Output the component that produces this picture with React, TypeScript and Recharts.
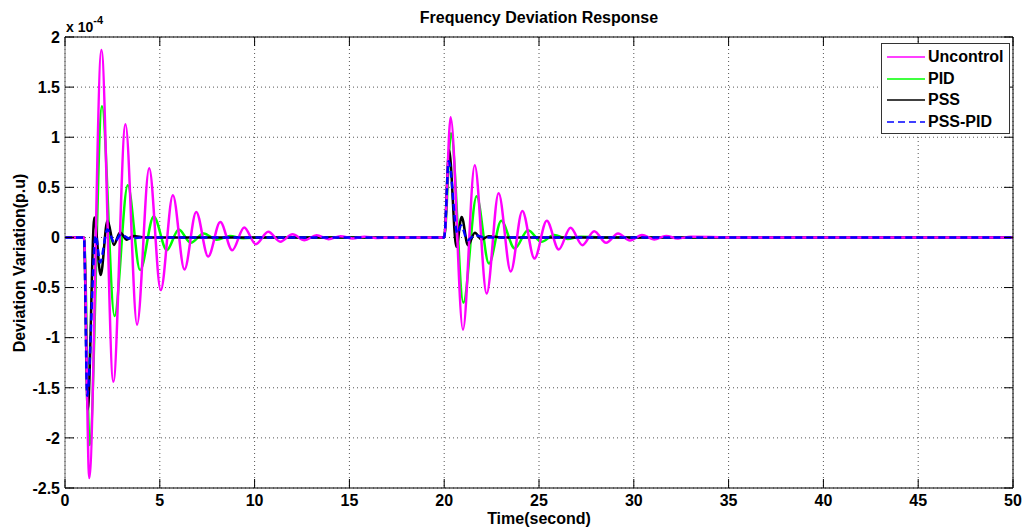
import { LineChart, Line, XAxis, YAxis, CartesianGrid } from 'recharts'

// values are in units of 1e-4 p.u.
const uncontrolTime = [
  0, 1.0, 1.28, 1.92, 2.55, 3.19, 3.8, 4.44, 5.05, 5.69, 6.3, 6.92, 7.55, 8.19, 8.82, 9.45,
  10.06, 10.72, 11.36, 12.0, 12.63, 13.27, 13.9, 14.53, 15.17, 15.8, 16.4, 17.0, 20.0,
  20.34, 20.99, 21.61, 22.24, 22.87, 23.51, 24.12, 24.76, 25.41, 26.04, 26.66, 27.29, 27.91,
  28.54, 29.17, 29.8, 30.43, 31.07, 31.7, 32.33, 33.0, 36.0, 50.0,
]
const uncontrolValue = [
  0, 0, -2.4, 1.87, -1.44, 1.13, -0.87, 0.69, -0.525, 0.42, -0.32, 0.255, -0.19, 0.155, -0.127, 0.1,
  -0.067, 0.056, -0.043, 0.033, -0.027, 0.022, -0.017, 0.013, -0.01, 0.008, -0.006, 0, 0,
  1.2, -0.92, 0.72, -0.56, 0.44, -0.34, 0.265, -0.21, 0.166, -0.12, 0.096, -0.077, 0.063,
  -0.054, 0.04, -0.03, 0.025, -0.02, 0.015, -0.01, 0.006, 0, 0,
]

const pidTime = [
  0, 1.0, 1.3, 1.95, 2.61, 3.31, 3.96, 4.68, 5.37, 6.0, 6.63, 7.31, 8.0, 8.7, 9.4, 10.5, 20.0,
  20.36, 21.01, 21.71, 22.36, 23.01, 23.72, 24.42, 25.13, 25.8, 26.5, 27.2, 28.5, 50.0,
]
const pidValue = [
  0, 0, -2.07, 1.31, -0.785, 0.52, -0.326, 0.21, -0.127, 0.08, -0.054, 0.04, -0.022, 0.015, -0.008, 0, 0,
  1.04, -0.65, 0.41, -0.26, 0.166, -0.11, 0.073, -0.044, 0.025, -0.015, 0.008, 0, 0,
]

const pssTime = [
  0, 1.0, 1.2, 1.55, 1.88, 2.24, 2.58, 2.9, 3.26, 3.6, 4.2, 20.0,
  20.26, 20.64, 20.92, 21.25, 21.62, 21.97, 22.35, 23.0, 50.0,
]
const pssValue = [
  0, 0, -1.72, 0.2, -0.375, 0.17, -0.075, 0.05, -0.022, 0.015, 0, 0,
  0.87, -0.094, 0.205, -0.077, 0.046, -0.02, 0.013, 0, 0,
]

const pssPidTime = [0, 1.0, 1.17, 1.62, 1.85, 2.24, 2.6, 2.95, 3.4, 4.0, 20.0, 20.24, 20.69, 20.9, 21.22, 21.6, 22.2, 50.0]
const pssPidValue = [0, 0, -1.58, 0.02, -0.25, 0.08, -0.05, 0.03, -0.01, 0, 0, 0.76, 0.04, 0.12, -0.027, 0.02, 0, 0]

const xTicks = [0, 5, 10, 15, 20, 25, 30, 35, 40, 45, 50]
const yTicks = [-2.5, -2, -1.5, -1, -0.5, 0, 0.5, 1, 1.5, 2]

const legendNames = ['Uncontrol', 'PID', 'PSS', 'PSS-PID']
const legendColors = ['#ff00ff', '#00ff00', '#000000', '#0000ff']
const legendDashes = ['', '', '', '7 4']

const FONT = '"Liberation Sans", Arial, sans-serif'
const TICK_LEN = 9
const LINE_W = 2.5

const toPoints = (t: number[], v: number[]) => t.map((x, i) => ({ t: x, v: v[i] }))

const uncontrolData = toPoints(uncontrolTime, uncontrolValue)
const pidData = toPoints(pidTime, pidValue)
const pssData = toPoints(pssTime, pssValue)
const pssPidData = toPoints(pssPidTime, pssPidValue)

const labelStyle = { fontFamily: FONT, fontWeight: 700, fontSize: 16, fill: '#000' }

function BottomTick({ x, y, payload }: any) {
  const base = y - 6
  return (
    <g>
      <line x1={x} x2={x} y1={base} y2={base - TICK_LEN} stroke="#000" />
      <text x={x} y={y} dy="0.75em" textAnchor="middle" style={labelStyle}>{payload.value}</text>
    </g>
  )
}

function TopTick({ x, y }: any) {
  return <line x1={x} x2={x} y1={y} y2={y + TICK_LEN} stroke="#000" />
}

function LeftTick({ x, y, payload }: any) {
  const base = x + 5
  return (
    <g>
      <line x1={base} x2={base + TICK_LEN} y1={y} y2={y} stroke="#000" />
      <text x={x} y={y} dy="0.36em" textAnchor="end" style={labelStyle}>{payload.value}</text>
    </g>
  )
}

function RightTick({ x, y }: any) {
  return <line x1={x} x2={x - TICK_LEN} y1={y} y2={y} stroke="#000" />
}

export default function App() {
  return (
    <div style={{ position: 'absolute', left: 0, top: 0, width: 1027, height: 528, background: '#fff', fontFamily: FONT }}>
      <LineChart width={1027} height={528} margin={{ top: 7, right: 0, bottom: 0, left: 0 }}>
        <CartesianGrid stroke="#555" strokeDasharray="1 3" />
        <XAxis
          dataKey="t" type="number" domain={[0, 50]} ticks={xTicks} height={40}
          tickSize={0} tickMargin={6} tick={(p: any) => <BottomTick {...p} />}
          axisLine={{ stroke: '#000' }} allowDataOverflow
        />
        <XAxis
          xAxisId="top" orientation="top" dataKey="t" type="number" domain={[0, 50]} ticks={xTicks} height={30}
          tickSize={0} tickMargin={0} tick={(p: any) => <TopTick {...p} />}
          axisLine={{ stroke: '#000' }} allowDataOverflow
        />
        <YAxis
          type="number" domain={[-2.5, 2]} ticks={yTicks} width={65}
          tickSize={0} tickMargin={5} tick={(p: any) => <LeftTick {...p} />}
          axisLine={{ stroke: '#666' }} allowDataOverflow
        />
        <YAxis
          yAxisId="right" orientation="right" type="number" domain={[-2.5, 2]} ticks={yTicks} width={14}
          tickSize={0} tickMargin={0} tick={(p: any) => <RightTick {...p} />}
          axisLine={{ stroke: '#000' }} allowDataOverflow
        />
        <Line data={pidData} dataKey="v" type="monotone" stroke={legendColors[1]} strokeWidth={LINE_W} dot={false} activeDot={false} isAnimationActive={false} />
        <Line data={pssData} dataKey="v" type="monotone" stroke={legendColors[2]} strokeWidth={LINE_W} dot={false} activeDot={false} isAnimationActive={false} />
        <Line data={uncontrolData} dataKey="v" type="monotone" stroke={legendColors[0]} strokeWidth={LINE_W} dot={false} activeDot={false} isAnimationActive={false} />
        <Line data={pssPidData} dataKey="v" type="monotone" stroke={legendColors[3]} strokeWidth={LINE_W} strokeDasharray="7 4" dot={false} activeDot={false} isAnimationActive={false} />
      </LineChart>

      <div style={{ position: 'absolute', left: 339, top: 9, width: 400, textAlign: 'center', fontSize: 16, lineHeight: '18px', fontWeight: 700 }}>
        Frequency Deviation Response
      </div>
      <div style={{ position: 'absolute', left: 66, top: 13, fontSize: 14, lineHeight: '16px', fontWeight: 700, whiteSpace: 'nowrap' }}>
        <span style={{ position: 'relative', top: 6 }}>x 10</span>
        <span style={{ fontSize: 11, position: 'relative', top: -2 }}>-4</span>
      </div>
      <div style={{ position: 'absolute', left: 339, top: 510, width: 400, textAlign: 'center', fontSize: 16, lineHeight: '18px', fontWeight: 700 }}>
        Time(second)
      </div>
      <div style={{ position: 'absolute', left: -130, top: 254, width: 300, textAlign: 'center', fontSize: 16, lineHeight: '18px', fontWeight: 700, transform: 'rotate(-90deg)' }}>
        Deviation Variation(p.u)
      </div>

      <div style={{ position: 'absolute', left: 881, top: 43, width: 129, height: 91, boxSizing: 'border-box', border: '1px solid #333', background: '#fff', paddingTop: 2 }}>
        {legendNames.map((name, i) => (
          <div key={name} style={{ display: 'flex', alignItems: 'center', height: 21.8 }}>
            <svg width={40} height={4} style={{ marginLeft: 5 }}>
              <line x1={0} x2={38} y1={2} y2={2} stroke={legendColors[i]} strokeWidth={1.5} strokeDasharray={legendDashes[i] || undefined} />
            </svg>
            <span style={{ fontSize: 16, fontWeight: 700, marginLeft: 1, lineHeight: '18px' }}>{name}</span>
          </div>
        ))}
      </div>
    </div>
  )
}
